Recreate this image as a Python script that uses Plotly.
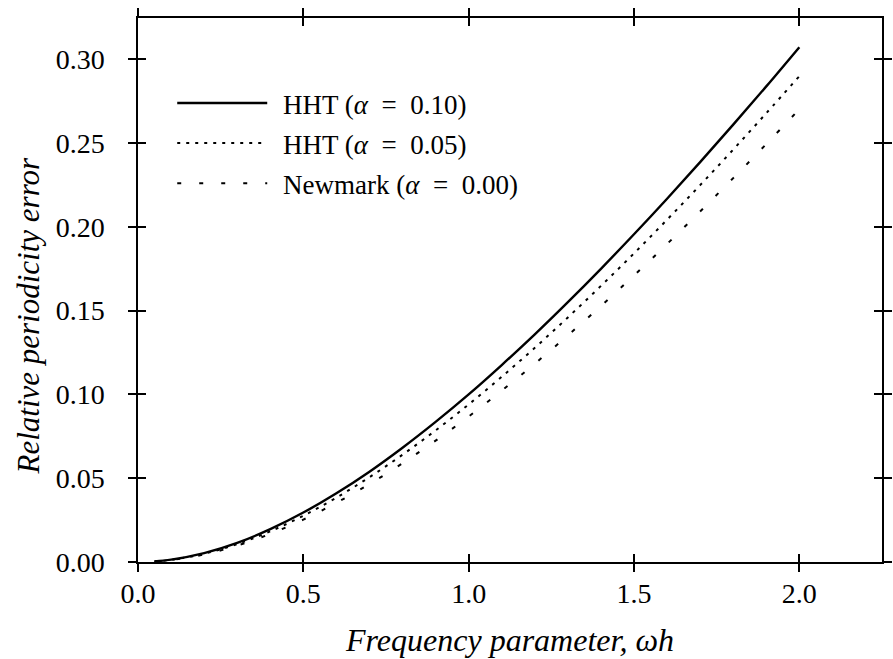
import plotly.graph_objects as go

# Frequency parameter (omega*h) sample points
omega_h = [0.05, 0.10, 0.20, 0.30, 0.40, 0.50, 0.60, 0.70, 0.80, 0.90, 1.00,
           1.10, 1.20, 1.30, 1.40, 1.50, 1.60, 1.70, 1.80, 1.90, 2.00]

# Relative periodicity error for each scheme
hht_010 = [0.0004, 0.0014, 0.0053, 0.0114, 0.0196, 0.0295, 0.0410, 0.0539, 0.0682, 0.0836, 0.1000,
           0.1175, 0.1358, 0.1550, 0.1749, 0.1955, 0.2167, 0.2385, 0.2609, 0.2837, 0.3071]
hht_005 = [0.0003, 0.0013, 0.0049, 0.0107, 0.0183, 0.0276, 0.0384, 0.0506, 0.0640, 0.0785, 0.0940,
           0.1105, 0.1278, 0.1459, 0.1647, 0.1841, 0.2042, 0.2248, 0.2460, 0.2677, 0.2898]
newmark = [0.0003, 0.0012, 0.0045, 0.0098, 0.0168, 0.0253, 0.0353, 0.0465, 0.0589, 0.0724, 0.0868,
           0.1022, 0.1183, 0.1352, 0.1527, 0.1709, 0.1897, 0.2091, 0.2290, 0.2493, 0.2701]

series_names = ["\u2009\u2009HHT (<i>α</i>\u2002=\u20020.10)",
                "\u2009\u2009HHT (<i>α</i>\u2002=\u20020.05)",
                "\u2009\u2009Newmark (<i>α</i>\u2002=\u20020.00)"]

x_ticks = [0.0, 0.5, 1.0, 1.5, 2.0]
x_tick_labels = ["0.0", "0.5", "1.0", "1.5", "2.0"]
y_ticks = [0.00, 0.05, 0.10, 0.15, 0.20, 0.25, 0.30]
y_tick_labels = ["0.00", "0.05", "0.10", "0.15", "0.20", "0.25", "0.30"]

x_title = "<i>Frequency parameter, ωh</i>"
y_title = "<i>Relative periodicity error</i>"

FONT = "Liberation Serif"
X_RANGE = [0, 2.25]
Y_RANGE = [0, 0.3245]

fig = go.Figure()

styles = [
    dict(color="black", width=2.4, dash="solid"),
    dict(color="black", width=2, dash="3px,6px"),
    dict(color="black", width=2, dash="4px,18px"),
]
for name, ys, st in zip(series_names, [hht_010, hht_005, newmark], styles):
    fig.add_trace(go.Scatter(x=omega_h, y=ys, mode="lines", name=name,
                             line=dict(shape="spline", **st), legendgroup=name))

# invisible trace on overlay axes so that inward ticks are drawn (crossing ticks)
fig.add_trace(go.Scatter(x=omega_h, y=hht_010, mode="none", xaxis="x2", yaxis="y2",
                         showlegend=False, hoverinfo="skip"))

axis_common = dict(showgrid=False, zeroline=False, ticklen=8, tickwidth=1.5,
                   tickcolor="black", mirror="allticks")

fig.update_layout(
    width=893, height=659,
    margin=dict(l=138, r=1, t=18, b=97),
    paper_bgcolor="white", plot_bgcolor="white",
    font=dict(family=FONT, size=28, color="black"),
    showlegend=True,
    legend=dict(x=0.046, y=0.888, xanchor="left", yanchor="top",
                bgcolor="rgba(0,0,0,0)", font=dict(family=FONT, size=27),
                itemwidth=90, tracegroupgap=2, traceorder="grouped"),
    xaxis=dict(range=X_RANGE, tickvals=x_ticks, showticklabels=False,
               ticks="outside", showline=True, linecolor="black", linewidth=1.5,
               **axis_common),
    yaxis=dict(range=Y_RANGE, tickvals=y_ticks, ticktext=y_tick_labels,
               ticks="outside", showline=True, linecolor="black", linewidth=1.5,
               ticklabelstandoff=18,
               **axis_common),
    xaxis2=dict(range=X_RANGE, tickvals=x_ticks, ticktext=x_tick_labels,
                overlaying="x", anchor="y2", side="bottom",
                ticks="inside", showline=False, showticklabels=True,
                ticklabelstandoff=12,
                title=dict(text=x_title, standoff=20,
                           font=dict(family=FONT, size=32)),
                **axis_common),
    yaxis2=dict(range=Y_RANGE, tickvals=y_ticks, overlaying="y", anchor="x2",
                ticks="inside", showline=False, showticklabels=False, **axis_common),
    annotations=[dict(text=y_title, textangle=-90, xref="paper", yref="paper",
                      x=-0.1472, y=0.454, xanchor="center", yanchor="middle",
                      showarrow=False, font=dict(family=FONT, size=31))],
)

fig.write_html("out.html")
